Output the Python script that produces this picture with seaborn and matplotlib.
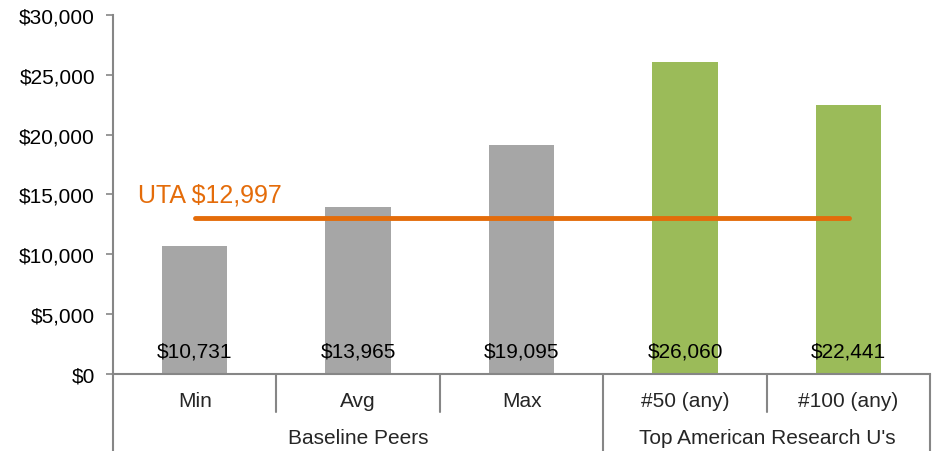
import matplotlib
matplotlib.use("Agg")
import matplotlib.pyplot as plt
import seaborn as sns

# ---- donnees ----
categories = ["Min", "Avg", "Max", "#50 (any)", "#100 (any)"]
values = [10731, 13965, 19095, 26060, 22441]
groups = ["Baseline Peers", "Baseline Peers", "Baseline Peers",
          "Top American Research U's", "Top American Research U's"]
uta_value = 12997
uta_label = "UTA $12,997"

gray = "#A6A6A6"
green = "#9BBB59"
orange = "#E46C0A"
axis_col = "#868686"
bar_colors = [gray, gray, gray, green, green]

sns.set_theme(style="white")
plt.rcParams["font.family"] = ["Liberation Sans", "DejaVu Sans"]

fig = plt.figure(figsize=(9.34, 4.52), dpi=100)
ax = fig.add_axes([0.121, 0.170, 0.875, 0.795])

sns.barplot(x=categories, y=values, hue=categories, palette=bar_colors,
            legend=False, width=0.4, saturation=1, linewidth=0, ax=ax)

ax.set_xlim(-0.5, len(categories) - 0.5)
ax.set_ylim(0, 30000)
ax.set_yticks(range(0, 30001, 5000))
ax.set_yticklabels([f"${v:,}" for v in range(0, 30001, 5000)], fontsize=15, color="black")
ax.tick_params(axis="y", length=5, width=1.2, color=axis_col, pad=8, left=True)
ax.set_xticks([])
ax.set_xlabel("")
ax.set_ylabel("")

for s in ["top", "right"]:
    ax.spines[s].set_visible(False)
ax.spines["left"].set_color(axis_col)
ax.spines["left"].set_linewidth(1.5)
ax.spines["bottom"].set_color(axis_col)
ax.spines["bottom"].set_linewidth(1.5)

# etiquettes de valeur en bas des barres
for i, v in enumerate(values):
    ax.text(i, 1900, f"${v:,}", ha="center", va="center", fontsize=15, color="black")

# ligne UTA
ax.plot([0, len(categories) - 1], [uta_value, uta_value], color=orange,
        lw=3.5, solid_capstyle="round")
ax.text(-0.35, 15000, uta_label, color=orange, fontsize=18, ha="left", va="center")

# axe x a deux niveaux
trans = ax.get_xaxis_transform()
n = len(categories)
for i, c in enumerate(categories):
    ax.text(i, -0.072, c, transform=trans, ha="center", va="center", fontsize=15)

# bornes des groupes
bounds = [0]
for i in range(1, n):
    if groups[i] != groups[i - 1]:
        bounds.append(i)
bounds.append(n)
for a, b in zip(bounds[:-1], bounds[1:]):
    ax.text((a + b - 1) / 2, -0.175, groups[a], transform=trans,
            ha="center", va="center", fontsize=15)

for k in range(n + 1):
    x = k - 0.5
    bottom = -0.215 if k in bounds else -0.105
    ax.plot([x, x], [0, bottom], transform=trans, color=axis_col, lw=1.5,
            clip_on=False)

fig.savefig("out.png", dpi=100)
